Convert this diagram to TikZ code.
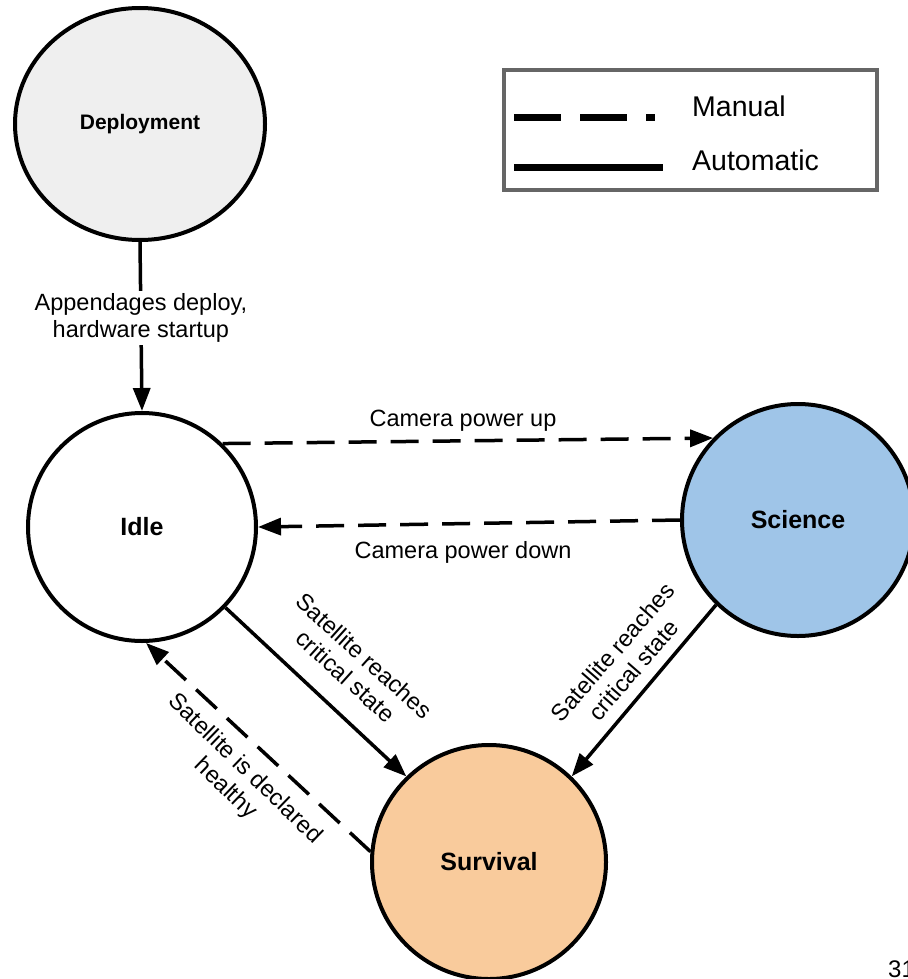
\documentclass[tikz,border=0pt]{standalone}
\usepackage{fontspec}
\setmainfont{Liberation Sans}
\usetikzlibrary{arrows.meta,shapes.geometric}
\definecolor{deplfill}{HTML}{EFEFEF}
\definecolor{scifill}{HTML}{9FC5E8}
\definecolor{survfill}{HTML}{F9CB9C}
\definecolor{legendgray}{HTML}{666666}
\begin{document}
\begin{tikzpicture}[x=1pt,y=-1pt,
  state/.style={circle,draw=black,line width=4pt,inner sep=0pt,
    font=\fontsize{25}{30}\selectfont\bfseries},
  autoarrow/.style={line width=3.5pt,-{Triangle[length=23pt,width=17pt]}},
  manualarrow/.style={autoarrow,dash pattern=on 28pt off 14pt},
  lbl/.style={font=\fontsize{23.5}{27.5}\selectfont,align=center,inner sep=2pt},
  legendtext/.style={font=\fontsize{28.5}{34}\selectfont,anchor=base west,inner sep=0pt},
]
\useasboundingbox (0,0) rectangle (907,979);
\fill[white] (0,0) rectangle (907,979);

% states
\node[ellipse,draw=black,line width=4pt,fill=deplfill,inner sep=0pt,
  minimum width=250pt,minimum height=232pt,
  font=\fontsize{21}{25}\selectfont\bfseries] (depl) at (140,124) {Deployment};
\node[state,minimum size=228pt] (idle) at (142,527) {Idle};
\node[state,minimum size=232pt,fill=scifill] (sci) at (798,520) {Science};
\node[state,minimum size=234pt,fill=survfill] (surv) at (489,862) {Survival};

% transitions
\draw[autoarrow] (depl.south) -- node[lbl,fill=white,pos=0.45] (lstart) {Appendages deploy,\\hardware startup} (idle.north);
\draw[manualarrow] (idle.46) -- (sci.136);
\draw[manualarrow] (sci.west) -- (idle.east);
\draw[autoarrow] (idle.-44) -- (surv.134);
\draw[autoarrow] (sci.226) -- (surv.46);
\draw[manualarrow] (surv.175) -- (idle.-88);

% labels
\node[lbl] (lup) at (463,421) {Camera power up};
\node[lbl] (ldown) at (463,552) {Camera power down};
\node[lbl,rotate=-42] (lcrit1) at (355,666) {Satellite reaches\\critical state};
\node[lbl,rotate=49] (lcrit2) at (623,661) {Satellite reaches\\critical state};
\node[lbl,rotate=-44] (lheal) at (235,779) {Satellite is declared\\healthy};

% legend
\node[draw=legendgray,line width=3.5pt,minimum width=373pt,minimum height=120pt,inner sep=0pt] (legend) at (690.5,130) {};
\coordinate (m1) at (514,118);
\coordinate (m2) at (655,118);
\coordinate (a1) at (514,167);
\coordinate (a2) at (663,167);
\draw[line width=7pt,dash pattern=on 47pt off 19pt] (m1) -- (m2);
\draw[line width=7pt] (a1) -- (a2);
\node[legendtext] (lman) at (692,117) {Manual};
\node[legendtext] (lauto) at (692,170) {Automatic};

% page number
\node[anchor=base west,inner sep=0pt,font=\fontsize{24}{28}\selectfont] (pnum) at (888,977) {31};
\end{tikzpicture}
\end{document}
